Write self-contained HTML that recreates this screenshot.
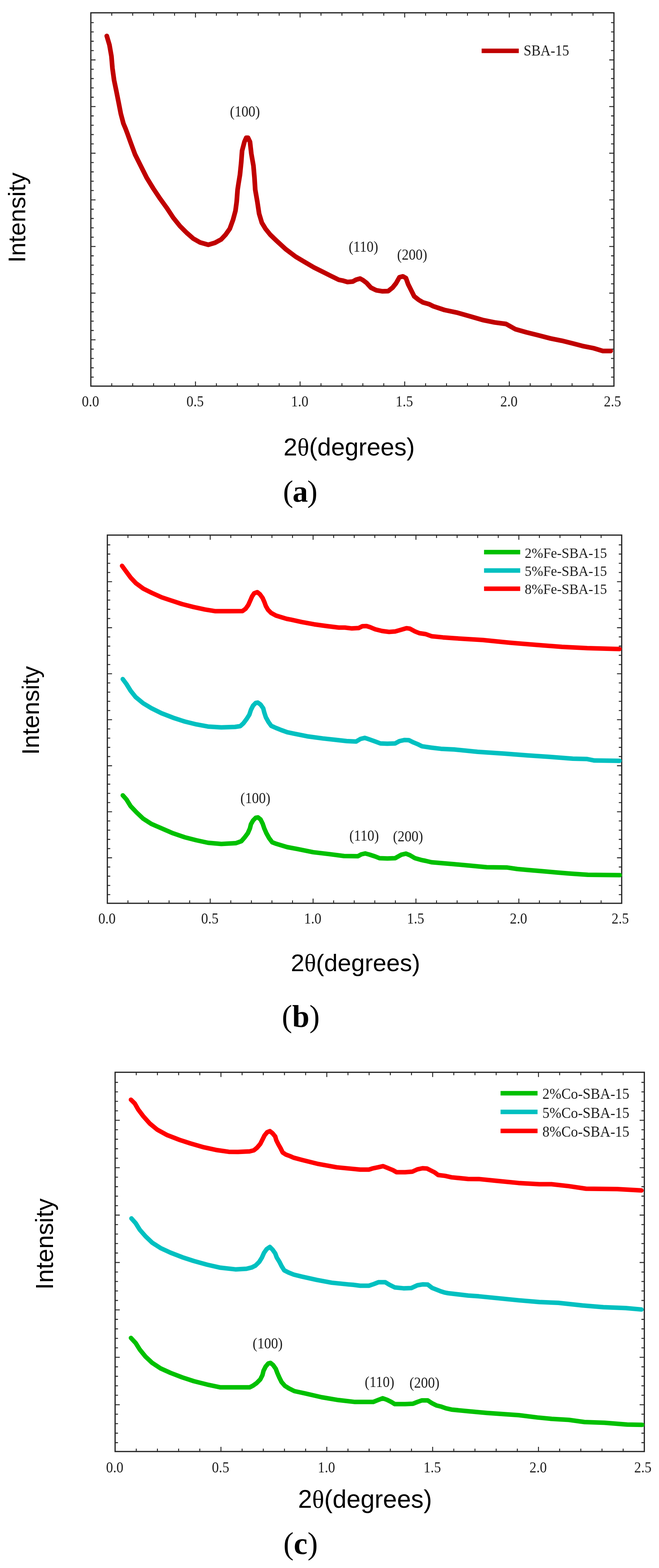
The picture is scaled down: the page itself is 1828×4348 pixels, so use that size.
<!DOCTYPE html>
<html><head><meta charset="utf-8"><title>XRD patterns</title>
<style>
html,body{margin:0;padding:0;background:#fff;}
body{width:1828px;height:4348px;overflow:hidden;}
svg{display:block;}
.tl{font-family:'Liberation Serif', 'Times New Roman', serif;fill:#1e1e1e;}
.ax{font-family:'Liberation Sans', Arial, sans-serif;fill:#000;}
.th{font-family:'Liberation Serif', 'Times New Roman', serif;}
.sub{font-family:'Liberation Serif', 'Times New Roman', serif;fill:#000;}
</style></head><body>
<svg width="1828" height="4348" viewBox="0 0 1828 4348">
<rect width="1828" height="4348" fill="#fff"/>
<path d="M310 1070.7v-8M310 35.5v8M368.1 1070.7v-8M368.1 35.5v8M426.1 1070.7v-8M426.1 35.5v8M484.2 1070.7v-8M484.2 35.5v8M542.2 1070.7v-13M542.2 35.5v13M600.2 1070.7v-8M600.2 35.5v8M658.3 1070.7v-8M658.3 35.5v8M716.3 1070.7v-8M716.3 35.5v8M774.4 1070.7v-8M774.4 35.5v8M832.4 1070.7v-13M832.4 35.5v13M890.4 1070.7v-8M890.4 35.5v8M948.5 1070.7v-8M948.5 35.5v8M1006.5 1070.7v-8M1006.5 35.5v8M1064.6 1070.7v-8M1064.6 35.5v8M1122.6 1070.7v-13M1122.6 35.5v13M1180.6 1070.7v-8M1180.6 35.5v8M1238.7 1070.7v-8M1238.7 35.5v8M1296.7 1070.7v-8M1296.7 35.5v8M1354.8 1070.7v-8M1354.8 35.5v8M1412.8 1070.7v-13M1412.8 35.5v13M1470.8 1070.7v-8M1470.8 35.5v8M1528.9 1070.7v-8M1528.9 35.5v8M1586.9 1070.7v-8M1586.9 35.5v8M1645 1070.7v-8M1645 35.5v8M252 62.7h8M1703 62.7h-8M252 88.5h8M1703 88.5h-8M252 114.4h8M1703 114.4h-8M252 140.3h8M1703 140.3h-8M252 166.1h13M1703 166.1h-13M252 192h8M1703 192h-8M252 217.9h8M1703 217.9h-8M252 243.8h8M1703 243.8h-8M252 269.6h8M1703 269.6h-8M252 295.5h13M1703 295.5h-13M252 321.4h8M1703 321.4h-8M252 347.2h8M1703 347.2h-8M252 373.1h8M1703 373.1h-8M252 399h8M1703 399h-8M252 424.9h13M1703 424.9h-13M252 450.7h8M1703 450.7h-8M252 476.6h8M1703 476.6h-8M252 502.5h8M1703 502.5h-8M252 528.3h8M1703 528.3h-8M252 554.2h13M1703 554.2h-13M252 580.1h8M1703 580.1h-8M252 605.9h8M1703 605.9h-8M252 631.8h8M1703 631.8h-8M252 657.7h8M1703 657.7h-8M252 683.5h13M1703 683.5h-13M252 709.4h8M1703 709.4h-8M252 735.3h8M1703 735.3h-8M252 761.2h8M1703 761.2h-8M252 787h8M1703 787h-8M252 812.9h13M1703 812.9h-13M252 838.8h8M1703 838.8h-8M252 864.6h8M1703 864.6h-8M252 890.5h8M1703 890.5h-8M252 916.4h8M1703 916.4h-8M252 942.2h13M1703 942.2h-13M252 968.1h8M1703 968.1h-8M252 994h8M1703 994h-8M252 1019.9h8M1703 1019.9h-8M252 1045.7h8M1703 1045.7h-8" stroke="#262626" stroke-width="2.6" fill="none"/>
<rect x="252" y="35.5" width="1451" height="1035.2" fill="none" stroke="#262626" stroke-width="3.4"/>
<text transform="translate(251 1127) scale(1 1.07)" text-anchor="middle" class="tl" style="font-size:38.5px">0.0</text>
<text transform="translate(541.2 1127) scale(1 1.07)" text-anchor="middle" class="tl" style="font-size:38.5px">0.5</text>
<text transform="translate(831.4 1127) scale(1 1.07)" text-anchor="middle" class="tl" style="font-size:38.5px">1.0</text>
<text transform="translate(1121.6 1127) scale(1 1.07)" text-anchor="middle" class="tl" style="font-size:38.5px">1.5</text>
<text transform="translate(1411.8 1127) scale(1 1.07)" text-anchor="middle" class="tl" style="font-size:38.5px">2.0</text>
<text transform="translate(1699 1127) scale(1 1.07)" text-anchor="middle" class="tl" style="font-size:38.5px">2.5</text>
<polyline points="296.2,99.7 303.6,124.6 309.1,156 311.9,189.3 316.5,222.5 323,253.9 328.5,281.6 335,314.8 342.3,342.5 348,356 353.4,370.2 362.7,396.1 374.7,428.5 388.5,456.2 407,493 425.4,523 444,550.8 462.4,576.2 480.8,604 499.3,627 517.8,645.5 536.2,661.6 554.7,672.2 577.8,678.7 596.3,673.2 613.3,664.1 625.8,650.8 637.4,634.2 646.5,609.3 653.2,584.4 656.5,559.4 659,526.2 661.5,509.6 665.6,484.6 669,451.4 671.5,418.2 678.1,393.2 683,382 688,382 693.4,393.2 697.2,426.5 703,459.7 705.9,493 708,526.2 713.8,559.4 718.8,592.7 726.3,617.6 736.3,634.2 749.6,650.8 767,667.5 792.3,690.8 820,711.6 843.1,725.4 870.8,741.6 893.9,753.1 917,764.7 940,776 952,778.4 964,782 978.4,780.8 988,775.5 998.8,772.4 1007.2,777.2 1016.8,784.4 1028.8,797.6 1043.2,804.8 1060,807.7 1076.9,807.2 1088.9,797.6 1098.5,785.6 1108.1,768.8 1117.7,766.4 1126.1,771.2 1132.1,788 1139.3,802.4 1148.9,821.6 1160.9,831.2 1172.9,838.4 1189.7,843.2 1201.7,849.1 1232.7,859.5 1268.9,867.2 1305.1,877.6 1341.3,887.9 1372.3,894.1 1403.4,898.2 1429.2,912.7 1460.2,921.5 1491.3,929.3 1527.5,938.6 1558.5,944.8 1589.5,952.5 1615.4,959.3 1646.4,965.5 1672.2,973.2 1694,973.2" fill="none" stroke="#c00000" stroke-width="13" stroke-linejoin="round" stroke-linecap="round"/>
<line x1="1336" y1="141" x2="1439" y2="141" stroke="#c00000" stroke-width="12.5"/>
<text transform="translate(1452.5 154) scale(1 1.07)" class="tl" style="font-size:38.5px">SBA-15</text>
<text transform="translate(679.5 322.7) scale(1 1.07)" text-anchor="middle" class="tl" style="font-size:38.5px">(100)</text>
<text transform="translate(1008.2 697.7) scale(1 1.07)" text-anchor="middle" class="tl" style="font-size:38.5px">(110)</text>
<text transform="translate(1143.3 719.8) scale(1 1.07)" text-anchor="middle" class="tl" style="font-size:38.5px">(200)</text>
<text x="968.6" y="1263.4" text-anchor="middle" class="ax" style="font-size:68.5px">2<tspan class="th">&#952;</tspan>(degrees)</text>
<text transform="translate(70.2 603.4) rotate(-90)" text-anchor="middle" class="ax" style="font-size:67.2px">Intensity</text>
<text x="831.8" y="1390.5" text-anchor="middle" class="sub" style="font-size:85.5px;letter-spacing:-2px">(<tspan font-weight="bold">a</tspan>)</text>
<path d="M354.9 2504.8v-8M354.9 1483.8v8M411.9 2504.8v-8M411.9 1483.8v8M469 2504.8v-8M469 1483.8v8M526.1 2504.8v-8M526.1 1483.8v8M583.1 2504.8v-13M583.1 1483.8v13M640.2 2504.8v-8M640.2 1483.8v8M697.3 2504.8v-8M697.3 1483.8v8M754.3 2504.8v-8M754.3 1483.8v8M811.4 2504.8v-8M811.4 1483.8v8M868.5 2504.8v-13M868.5 1483.8v13M925.5 2504.8v-8M925.5 1483.8v8M982.6 2504.8v-8M982.6 1483.8v8M1039.7 2504.8v-8M1039.7 1483.8v8M1096.8 2504.8v-8M1096.8 1483.8v8M1153.8 2504.8v-13M1153.8 1483.8v13M1210.9 2504.8v-8M1210.9 1483.8v8M1268 2504.8v-8M1268 1483.8v8M1325 2504.8v-8M1325 1483.8v8M1382.1 2504.8v-8M1382.1 1483.8v8M1439.2 2504.8v-13M1439.2 1483.8v13M1496.2 2504.8v-8M1496.2 1483.8v8M1553.3 2504.8v-8M1553.3 1483.8v8M1610.4 2504.8v-8M1610.4 1483.8v8M1667.4 2504.8v-8M1667.4 1483.8v8M297.8 1510.9h8M1724.5 1510.9h-8M297.8 1536.4h8M1724.5 1536.4h-8M297.8 1562h8M1724.5 1562h-8M297.8 1587.5h8M1724.5 1587.5h-8M297.8 1613h13M1724.5 1613h-13M297.8 1638.5h8M1724.5 1638.5h-8M297.8 1664h8M1724.5 1664h-8M297.8 1689.6h8M1724.5 1689.6h-8M297.8 1715.1h8M1724.5 1715.1h-8M297.8 1740.6h13M1724.5 1740.6h-13M297.8 1766.1h8M1724.5 1766.1h-8M297.8 1791.6h8M1724.5 1791.6h-8M297.8 1817.2h8M1724.5 1817.2h-8M297.8 1842.7h8M1724.5 1842.7h-8M297.8 1868.2h13M1724.5 1868.2h-13M297.8 1893.7h8M1724.5 1893.7h-8M297.8 1919.2h8M1724.5 1919.2h-8M297.8 1944.8h8M1724.5 1944.8h-8M297.8 1970.3h8M1724.5 1970.3h-8M297.8 1995.8h13M1724.5 1995.8h-13M297.8 2021.3h8M1724.5 2021.3h-8M297.8 2046.8h8M1724.5 2046.8h-8M297.8 2072.4h8M1724.5 2072.4h-8M297.8 2097.9h8M1724.5 2097.9h-8M297.8 2123.4h13M1724.5 2123.4h-13M297.8 2148.9h8M1724.5 2148.9h-8M297.8 2174.4h8M1724.5 2174.4h-8M297.8 2200h8M1724.5 2200h-8M297.8 2225.5h8M1724.5 2225.5h-8M297.8 2251h13M1724.5 2251h-13M297.8 2276.5h8M1724.5 2276.5h-8M297.8 2302h8M1724.5 2302h-8M297.8 2327.6h8M1724.5 2327.6h-8M297.8 2353.1h8M1724.5 2353.1h-8M297.8 2378.6h13M1724.5 2378.6h-13M297.8 2404.1h8M1724.5 2404.1h-8M297.8 2429.6h8M1724.5 2429.6h-8M297.8 2455.2h8M1724.5 2455.2h-8M297.8 2480.7h8M1724.5 2480.7h-8" stroke="#262626" stroke-width="2.6" fill="none"/>
<rect x="297.8" y="1483.8" width="1426.7" height="1021" fill="none" stroke="#262626" stroke-width="3.4"/>
<text transform="translate(296.8 2561.3) scale(1 1.07)" text-anchor="middle" class="tl" style="font-size:38.5px">0.0</text>
<text transform="translate(582.1 2561.3) scale(1 1.07)" text-anchor="middle" class="tl" style="font-size:38.5px">0.5</text>
<text transform="translate(867.5 2561.3) scale(1 1.07)" text-anchor="middle" class="tl" style="font-size:38.5px">1.0</text>
<text transform="translate(1152.8 2561.3) scale(1 1.07)" text-anchor="middle" class="tl" style="font-size:38.5px">1.5</text>
<text transform="translate(1438.2 2561.3) scale(1 1.07)" text-anchor="middle" class="tl" style="font-size:38.5px">2.0</text>
<text transform="translate(1720.5 2561.3) scale(1 1.07)" text-anchor="middle" class="tl" style="font-size:38.5px">2.5</text>
<polyline points="340.6,2205.4 350.8,2216.9 362.3,2235.4 378.5,2252.5 397,2270 420,2284.8 447.7,2296.8 480,2310.7 512.4,2321.7 544.7,2330 577,2337 613.9,2340.2 654.8,2337.9 669.5,2332.7 678.4,2322.4 687.3,2310.6 693.2,2297.3 696.1,2285.5 702,2275.1 709.4,2267.7 715.3,2266.5 722.7,2272.2 728.6,2284 733.1,2297.3 739,2310.6 746.4,2323.9 755.2,2335.7 767,2340.1 781.8,2344.5 796.6,2349 824.3,2354.2 868.6,2363.1 913,2368.4 954.4,2373.8 992.8,2374.3 1002.4,2369 1013.2,2366.6 1024,2369.5 1040.8,2375 1052.8,2379.8 1074.5,2380.5 1096.1,2379.8 1112.9,2370.2 1126.1,2367.1 1136.9,2371.4 1151.3,2379.8 1168.1,2384.6 1180.1,2387 1196.9,2391 1223.3,2393.2 1258.7,2396.3 1300,2400 1350,2404.7 1405.4,2405.4 1435,2409.8 1468.2,2412.8 1512.5,2416.5 1545.8,2419.4 1582.7,2422.4 1630.7,2425.7 1719.3,2426.8" fill="none" stroke="#00c000" stroke-width="12.5" stroke-linejoin="round" stroke-linecap="round"/>
<polyline points="340.6,1883.1 350.8,1896.9 362.3,1915.4 376.2,1932.9 397,1950 420,1963.9 447.7,1977.7 480,1990.2 512.4,2000.8 544.7,2008.7 577,2014.7 613.9,2017 651.8,2015.7 666.6,2013.5 675.5,2005.3 684.3,1993.5 691.7,1981.7 696.1,1968.4 702,1956.6 709.4,1949.2 715.3,1948.3 722.7,1953.6 730.1,1964 733.1,1975.8 737.5,1989.1 744.9,2002.4 752.3,2012.7 765.6,2018.6 780.3,2024.5 796.6,2030.4 815.5,2034.3 855.4,2042.3 895.2,2047.6 935.1,2052 961.6,2055 988,2056.2 1000,2049 1012,2046.1 1024,2050.2 1040.8,2056.2 1055.2,2061.5 1074.5,2062.2 1096.1,2061.5 1108.1,2055 1122.5,2051.9 1134.5,2052.6 1146.5,2058.6 1160.9,2064.6 1170.5,2069.4 1196.7,2073.3 1223.3,2076.4 1259.8,2078.3 1324.7,2084.8 1399.4,2089.8 1464.3,2094.8 1524.1,2098.8 1588.9,2103.8 1628.8,2104.8 1648.7,2108.8 1718.5,2109.7" fill="none" stroke="#00c0c0" stroke-width="12.5" stroke-linejoin="round" stroke-linecap="round"/>
<polyline points="338.6,1569.1 349.3,1583.9 363.1,1602.4 377,1617.1 397.7,1632.4 420.8,1643.9 448.5,1656.4 476.2,1665.6 503.9,1674.8 536.2,1683.1 568.6,1690.1 596.3,1694.7 633.2,1694.7 672.5,1694.6 681.4,1688 688.7,1677.6 694.7,1664.3 699.1,1654 705,1645.1 713.9,1642 721.2,1648.1 728.6,1658.4 733.1,1668.7 737.5,1680.6 743.4,1690.9 752.3,1699.8 765.6,1707.1 780.3,1711.6 795.1,1716 807.7,1718.4 837,1724.8 871.3,1731.2 905.5,1736 940,1740.2 956.8,1740.2 976,1742.6 995.2,1741.4 1004.8,1736.6 1016.8,1736.1 1026.4,1739 1040.8,1745 1060,1749.8 1079.3,1752.2 1096.1,1751 1112.9,1746.2 1127.3,1741.9 1136.9,1743.3 1151.3,1751 1163.3,1755.8 1180.1,1758.2 1196.9,1764.2 1228.5,1767.4 1259.8,1769.8 1339.6,1774.8 1414.4,1782.3 1494.2,1788.8 1559,1793.7 1628.8,1797.2 1718.5,1799.7" fill="none" stroke="#ff0000" stroke-width="12.5" stroke-linejoin="round" stroke-linecap="round"/>
<line x1="1342.7" y1="1531" x2="1443" y2="1531" stroke="#00c000" stroke-width="12.5"/>
<text transform="translate(1455.5 1546.5) scale(1 1.07)" class="tl" style="font-size:38.4px">2%Fe-SBA-15</text>
<line x1="1342.7" y1="1582" x2="1443" y2="1582" stroke="#00c0c0" stroke-width="12.5"/>
<text transform="translate(1455.5 1596.6) scale(1 1.07)" class="tl" style="font-size:38.4px">5%Fe-SBA-15</text>
<line x1="1342.7" y1="1632.6" x2="1443" y2="1632.6" stroke="#ff0000" stroke-width="12.5"/>
<text transform="translate(1455.5 1646.7) scale(1 1.07)" class="tl" style="font-size:38.4px">8%Fe-SBA-15</text>
<text transform="translate(708.5 2226.5) scale(1 1.07)" text-anchor="middle" class="tl" style="font-size:38.5px">(100)</text>
<text transform="translate(1010 2331) scale(1 1.07)" text-anchor="middle" class="tl" style="font-size:38.5px">(110)</text>
<text transform="translate(1131.8 2333) scale(1 1.07)" text-anchor="middle" class="tl" style="font-size:38.5px">(200)</text>
<text x="986.1" y="2692.9" text-anchor="middle" class="ax" style="font-size:67.5px">2<tspan class="th">&#952;</tspan>(degrees)</text>
<text transform="translate(108 1970) rotate(-90)" text-anchor="middle" class="ax" style="font-size:66.1px">Intensity</text>
<text x="834.3" y="2846.9" text-anchor="middle" class="sub" style="font-size:86px;letter-spacing:0px">(<tspan font-weight="bold">b</tspan>)</text>
<path d="M378 4025v-8M378 2973.4v8M436.7 4025v-8M436.7 2973.4v8M495.5 4025v-8M495.5 2973.4v8M554.2 4025v-8M554.2 2973.4v8M612.9 4025v-13M612.9 2973.4v13M671.6 4025v-8M671.6 2973.4v8M730.3 4025v-8M730.3 2973.4v8M789.1 4025v-8M789.1 2973.4v8M847.8 4025v-8M847.8 2973.4v8M906.5 4025v-13M906.5 2973.4v13M965.2 4025v-8M965.2 2973.4v8M1023.9 4025v-8M1023.9 2973.4v8M1082.7 4025v-8M1082.7 2973.4v8M1141.4 4025v-8M1141.4 2973.4v8M1200.1 4025v-13M1200.1 2973.4v13M1258.8 4025v-8M1258.8 2973.4v8M1317.5 4025v-8M1317.5 2973.4v8M1376.3 4025v-8M1376.3 2973.4v8M1435 4025v-8M1435 2973.4v8M1493.7 4025v-13M1493.7 2973.4v13M1552.4 4025v-8M1552.4 2973.4v8M1611.1 4025v-8M1611.1 2973.4v8M1669.9 4025v-8M1669.9 2973.4v8M1728.6 4025v-8M1728.6 2973.4v8M319.3 3001.4h8M1787.3 3001.4h-8M319.3 3027.7h8M1787.3 3027.7h-8M319.3 3054h8M1787.3 3054h-8M319.3 3080.3h8M1787.3 3080.3h-8M319.3 3106.5h13M1787.3 3106.5h-13M319.3 3132.8h8M1787.3 3132.8h-8M319.3 3159.1h8M1787.3 3159.1h-8M319.3 3185.4h8M1787.3 3185.4h-8M319.3 3211.7h8M1787.3 3211.7h-8M319.3 3238h13M1787.3 3238h-13M319.3 3264.3h8M1787.3 3264.3h-8M319.3 3290.6h8M1787.3 3290.6h-8M319.3 3316.9h8M1787.3 3316.9h-8M319.3 3343.2h8M1787.3 3343.2h-8M319.3 3369.4h13M1787.3 3369.4h-13M319.3 3395.7h8M1787.3 3395.7h-8M319.3 3422h8M1787.3 3422h-8M319.3 3448.3h8M1787.3 3448.3h-8M319.3 3474.6h8M1787.3 3474.6h-8M319.3 3500.9h13M1787.3 3500.9h-13M319.3 3527.2h8M1787.3 3527.2h-8M319.3 3553.5h8M1787.3 3553.5h-8M319.3 3579.8h8M1787.3 3579.8h-8M319.3 3606.1h8M1787.3 3606.1h-8M319.3 3632.3h13M1787.3 3632.3h-13M319.3 3658.6h8M1787.3 3658.6h-8M319.3 3684.9h8M1787.3 3684.9h-8M319.3 3711.2h8M1787.3 3711.2h-8M319.3 3737.5h8M1787.3 3737.5h-8M319.3 3763.8h13M1787.3 3763.8h-13M319.3 3790.1h8M1787.3 3790.1h-8M319.3 3816.4h8M1787.3 3816.4h-8M319.3 3842.7h8M1787.3 3842.7h-8M319.3 3869h8M1787.3 3869h-8M319.3 3895.2h13M1787.3 3895.2h-13M319.3 3921.5h8M1787.3 3921.5h-8M319.3 3947.8h8M1787.3 3947.8h-8M319.3 3974.1h8M1787.3 3974.1h-8M319.3 4000.4h8M1787.3 4000.4h-8" stroke="#262626" stroke-width="2.6" fill="none"/>
<rect x="319.3" y="2973.4" width="1468" height="1051.6" fill="none" stroke="#262626" stroke-width="3.4"/>
<text transform="translate(318.3 4082.7) scale(1 1.07)" text-anchor="middle" class="tl" style="font-size:38.5px">0.0</text>
<text transform="translate(611.9 4082.7) scale(1 1.07)" text-anchor="middle" class="tl" style="font-size:38.5px">0.5</text>
<text transform="translate(905.5 4082.7) scale(1 1.07)" text-anchor="middle" class="tl" style="font-size:38.5px">1.0</text>
<text transform="translate(1199.1 4082.7) scale(1 1.07)" text-anchor="middle" class="tl" style="font-size:38.5px">1.5</text>
<text transform="translate(1492.7 4082.7) scale(1 1.07)" text-anchor="middle" class="tl" style="font-size:38.5px">2.0</text>
<text transform="translate(1783.3 4082.7) scale(1 1.07)" text-anchor="middle" class="tl" style="font-size:38.5px">2.5</text>
<polyline points="363.2,3710 376.2,3723.9 387.7,3742.3 403.9,3762.2 422.3,3779.3 445.4,3794.5 473.1,3807 505.4,3819.4 537.8,3830 574.7,3839.3 611.6,3847.1 653.2,3847.1 692.5,3847.1 701.4,3842.7 711.7,3835.3 722,3825 728,3813.2 730.9,3801.4 736.8,3789.5 744.2,3780.7 750.1,3779.2 757.5,3785.1 764.9,3795.5 769.3,3807.3 775.2,3820.6 781.1,3832.4 790,3842.7 801.8,3850.1 816.6,3857.5 846.2,3863.9 892.3,3874.5 938.5,3882.3 984.7,3887.6 1035.2,3887.6 1047.2,3882.8 1061.6,3877.3 1073.6,3881.6 1085.6,3887.6 1095.2,3893.6 1124.1,3893.6 1145.7,3892.4 1157.7,3887.6 1169.7,3883.3 1186.5,3883.3 1198.5,3891.2 1210.5,3897.2 1224.9,3900.8 1236.9,3905.1 1252.4,3908.7 1298.6,3913.3 1350,3918 1400,3921.5 1439.5,3924.3 1490.9,3930.6 1530.4,3934.5 1577.8,3937.3 1621.3,3943.2 1676.6,3945.2 1739.9,3950.3 1781.4,3951.1" fill="none" stroke="#00c000" stroke-width="12.5" stroke-linejoin="round" stroke-linecap="round"/>
<polyline points="364.6,3378.6 376.2,3391.6 387.7,3410 403.9,3428.5 422.3,3446 445.4,3460.8 473.1,3473.7 505.4,3486.2 537.8,3496.8 574.7,3507 611.6,3515.3 653.2,3519.9 683.6,3518.3 698.4,3514.6 708.7,3509.4 719.1,3499.1 726.5,3487.3 732.4,3474 739.8,3463.6 748.6,3457.8 756,3465.1 763.4,3475.5 767.8,3487.3 775.2,3499.1 781.1,3510.9 788.5,3522.7 800.3,3528.6 815.1,3534.5 836.9,3539.9 878.5,3549.1 920,3556.9 966.2,3561.6 980,3562.8 999.2,3565.2 1023.2,3565.2 1037.6,3560.4 1049.6,3555.6 1068.8,3555.6 1080.8,3562.8 1095.2,3570 1119.3,3572.4 1140.9,3571.7 1157.7,3564 1172.1,3561.6 1186.5,3562.1 1198.5,3571.2 1210.5,3576 1222.5,3580.8 1234.5,3584.4 1243.2,3586 1298.6,3592.5 1328,3594.6 1376,3599.4 1438.4,3605.6 1496.1,3610.4 1548.9,3612.8 1616.1,3620 1673.7,3624.8 1736.1,3627.2 1779.3,3631.1" fill="none" stroke="#00c0c0" stroke-width="12.5" stroke-linejoin="round" stroke-linecap="round"/>
<polyline points="363.2,3049.4 373.9,3060 383.1,3076.2 396.9,3094.6 415.4,3115.4 436.2,3132.5 463.9,3147.7 496.2,3160.2 528.5,3170.8 565.5,3181.4 602.4,3189.3 634.7,3193.9 660,3194.2 692.5,3192.7 704.3,3189.8 713.2,3182.4 722,3172 728,3160.2 733.9,3148.4 741.2,3139.5 748.6,3136.6 756,3142.5 763.4,3151.4 766.4,3161.7 772.3,3173.5 778.2,3183.9 784.1,3195.7 793,3201.6 804.8,3206 815.1,3210.4 836.9,3216.2 883.1,3227.7 933.9,3236.9 980,3241.4 999.2,3243.3 1023.2,3243.3 1032.8,3240.2 1049.6,3236.6 1062.8,3233.7 1076,3239 1090.4,3245 1100,3250.5 1124.1,3250.5 1143.3,3249.1 1157.7,3242.6 1172.1,3239.5 1184.1,3240.2 1193.7,3245 1205.7,3251 1215.3,3258.2 1234.5,3260.6 1252.4,3264.6 1298.6,3269.3 1328,3269.4 1376,3274.2 1438.4,3280.4 1496.1,3283.8 1529.7,3283.8 1577.7,3289.1 1625.7,3296.3 1712.1,3297.2 1779.3,3301.1" fill="none" stroke="#ff0000" stroke-width="12.5" stroke-linejoin="round" stroke-linecap="round"/>
<line x1="1388.5" y1="3031.5" x2="1491.1" y2="3031.5" stroke="#00c000" stroke-width="12.5"/>
<text transform="translate(1504.5 3046.9) scale(1 1.07)" class="tl" style="font-size:39.5px">2%Co-SBA-15</text>
<line x1="1388.5" y1="3083.3" x2="1491.1" y2="3083.3" stroke="#00c0c0" stroke-width="12.5"/>
<text transform="translate(1504.5 3099.7) scale(1 1.07)" class="tl" style="font-size:39.5px">5%Co-SBA-15</text>
<line x1="1388.5" y1="3135.9" x2="1491.1" y2="3135.9" stroke="#ff0000" stroke-width="12.5"/>
<text transform="translate(1504.5 3152.1) scale(1 1.07)" class="tl" style="font-size:39.5px">8%Co-SBA-15</text>
<text transform="translate(742.5 3739) scale(1 1.07)" text-anchor="middle" class="tl" style="font-size:38.5px">(100)</text>
<text transform="translate(1052.8 3846) scale(1 1.07)" text-anchor="middle" class="tl" style="font-size:38.5px">(110)</text>
<text transform="translate(1177.4 3848) scale(1 1.07)" text-anchor="middle" class="tl" style="font-size:38.5px">(200)</text>
<text x="1012.6" y="4181.3" text-anchor="middle" class="ax" style="font-size:69.9px">2<tspan class="th">&#952;</tspan>(degrees)</text>
<text transform="translate(147 3449.5) rotate(-90)" text-anchor="middle" class="ax" style="font-size:68px">Intensity</text>
<text x="833.8" y="4309" text-anchor="middle" class="sub" style="font-size:86px;letter-spacing:0px">(<tspan font-weight="bold">c</tspan>)</text>
</svg>
</body></html>
